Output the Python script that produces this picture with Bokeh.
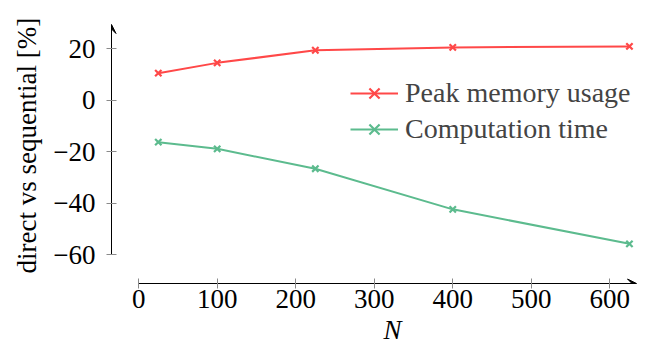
from bokeh.plotting import figure
from bokeh.models import Range1d, Legend, LegendItem, Arrow, VeeHead, FixedTicker, Title
from bokeh.embed import file_html
from bokeh.resources import INLINE

# ---- data ----
N = [25, 100, 225, 400, 625]
peak_memory = [10.6, 14.6, 19.5, 20.6, 21.0]
computation_time = [-16.2, -18.8, -26.5, -42.3, -55.7]

x_ticks = [0, 100, 200, 300, 400, 500, 600]
y_ticks = [-60, -40, -20, 0, 20]
y_tick_labels = ["\u221260", "\u221240", "\u221220", "0", "20"]

series_names = ["Peak memory usage", "Computation time"]
series_colors = ["#ff4848", "#5cbb8e"]
x_title = "N"
y_title = "direct vs sequential [%]"

FONT = "Liberation Serif, serif"
FS_TICK = "27px"
FS = "28px"

x_start, x_end = -34.6, 634.0
y_start, y_end = -71.1, 29.5

p = figure(width=637, height=349, output_backend="svg", toolbar_location=None,
           x_range=Range1d(x_start, x_end), y_range=Range1d(y_start, y_end),
           min_border_left=111, min_border_right=1, min_border_top=24,
           min_border_bottom=66)
p.outline_line_color = None
p.grid.visible = False
p.background_fill_color = "white"
p.border_fill_color = "white"

items = []
for vals, name, col in zip([peak_memory, computation_time], series_names, series_colors):
    r1 = p.line(N, vals, line_color=col, line_width=2)
    r2 = p.scatter(N, vals, marker="x", size=9, line_color=col, line_width=2.2)
    items.append(LegendItem(label=name, renderers=[r1, r2]))

leg = Legend(items=items, location=(239, 136), border_line_color=None,
             background_fill_alpha=0, padding=0, margin=0, spacing=0,
             glyph_width=48, glyph_height=36, label_height=36,
             label_standoff=7, label_text_font=FONT, label_text_font_size=FS)
p.add_layout(leg, "center")

# axes
for ax in [p.xaxis[0], p.yaxis[0]]:
    ax.axis_line_color = "black"
    ax.axis_line_width = 1
    ax.major_tick_line_color = "#8a8a8a"
    ax.major_tick_line_width = 1
    ax.major_tick_in = 5
    ax.major_tick_out = 5
    ax.minor_tick_line_color = None
    ax.major_label_text_font = FONT
    ax.major_label_text_font_size = FS_TICK
    ax.major_label_text_color = "black"

p.xaxis.ticker = FixedTicker(ticks=x_ticks)
p.yaxis.ticker = FixedTicker(ticks=y_ticks)
p.yaxis.major_label_overrides = {t: l for t, l in zip(y_ticks, y_tick_labels)}
p.xaxis.bounds = (0, x_end)
p.yaxis.bounds = (-60, y_end)
p.xaxis.major_label_standoff = 1
p.yaxis.major_label_standoff = 11

# axis titles as side titles (so they can be centred on the drawn axis lines)
p.add_layout(Title(text=x_title, align="left", offset=272, standoff=4,
                   text_line_height=0.8,
                   text_font=FONT, text_font_size="27px", text_font_style="italic",
                   text_color="black"), "below")
p.add_layout(Title(text=y_title, align="left", offset=10, standoff=17,
                   text_font=FONT, text_font_size="27px", text_font_style="normal",
                   text_color="black"), "left")

# arrow heads at the axis ends
p.add_layout(Arrow(end=VeeHead(size=9, line_color="black", fill_color="black", line_width=1),
                   x_start=x_end - 5, y_start=y_start, x_end=x_end, y_end=y_start,
                   line_color="black", line_width=1))
p.add_layout(Arrow(end=VeeHead(size=9, line_color="black", fill_color="black", line_width=1),
                   x_start=x_start, y_start=y_end - 2, x_end=x_start, y_end=y_end,
                   line_color="black", line_width=1))

open("out.html", "w").write(file_html(p, INLINE))
